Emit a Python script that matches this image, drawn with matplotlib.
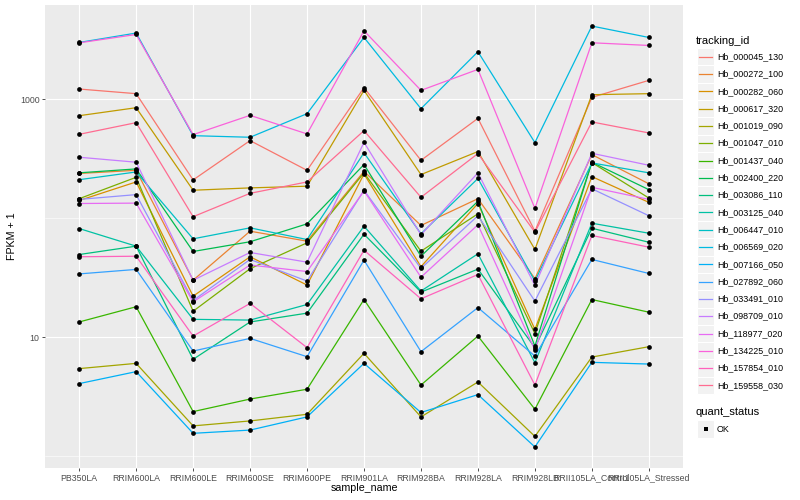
import numpy as np
import matplotlib
matplotlib.use('Agg')
import matplotlib.pyplot as plt
from matplotlib.lines import Line2D
from matplotlib.patches import Rectangle

plt.rcParams['font.family'] = ['Liberation Sans', 'DejaVu Sans']

# sample names (x axis)
samples = ['PB350LA', 'RRIM600LA', 'RRIM600LE', 'RRIM600SE', 'RRIM600PE', 'RRIM901LA',
           'RRIM928BA', 'RRIM928LA', 'RRIM928LB', 'RRII105LA_Control', 'RRII105LA_Stressed']

# FPKM + 1 per gene
hb_000045_130 = [1222, 1117, 210, 450, 253, 1254, 307, 692, 77.8, 1040, 1445]
hb_000272_100 = [238, 253, 30.1, 77.8, 64.1, 248, 86.9, 146, 31.0, 343, 195]
hb_000282_060 = [141, 202, 22.1, 47.4, 27.4, 236, 39.1, 133, 11.6, 224, 136]
hb_000617_320 = [729, 851, 172, 180, 186, 1191, 233, 364, 54.6, 1095, 1117]
hb_001019_090 = [5.43, 6.01, 1.79, 1.97, 2.24, 7.30, 2.13, 4.19, 1.46, 6.79, 8.30]
hb_001047_010 = [146, 221, 16.5, 37.6, 62.1, 241, 52.8, 109, 10.7, 294, 148]
hb_001437_040 = [13.4, 18.0, 2.36, 3.01, 3.64, 20.7, 3.95, 10.2, 2.47, 20.7, 16.2]
hb_002400_220 = [241, 260, 52.5, 63.4, 89.7, 283, 47.9, 139, 8.40, 296, 174]
hb_003086_110 = [49.5, 58.2, 6.50, 13.4, 15.9, 73.4, 23.9, 37.3, 8.15, 82.4, 62.8]
hb_003125_040 = [81.9, 58.2, 14.1, 13.9, 18.8, 85.7, 24.4, 50.2, 6.09, 90.8, 74.8]
hb_006447_010 = [211, 245, 67.1, 83.0, 66.2, 355, 73.9, 216, 29.6, 292, 241]
hb_006569_020 = [3013, 3614, 495, 480, 758, 3319, 835, 2518, 433, 4140, 3319]
hb_007166_050 = [4.06, 5.12, 1.55, 1.65, 2.13, 6.01, 2.32, 3.28, 1.19, 6.13, 5.93]
hb_027892_060 = [34.0, 37.1, 7.63, 9.75, 6.84, 44.4, 7.54, 17.7, 6.92, 45.0, 34.3]
hb_033491_010 = [144, 158, 20.3, 45.0, 29.6, 172, 37.8, 105, 20.1, 177, 105]
hb_098709_010 = [326, 296, 30.1, 51.5, 42.7, 435, 72.6, 241, 27.2, 352, 279]
hb_118977_020 = [133, 134, 19.8, 40.4, 35.6, 170, 31.9, 88.1, 7.78, 182, 144]
hb_134225_010 = [2990, 3516, 505, 734, 512, 3778, 1191, 1787, 121, 2994, 2843]
hb_157854_010 = [47.4, 47.9, 10.2, 19.2, 8.15, 53.8, 21.0, 33.6, 3.95, 71.6, 57.1]
hb_159558_030 = [508, 637, 103, 162, 202, 546, 150, 350, 76.3, 646, 522]

tracking_ids = ['Hb_000045_130', 'Hb_000272_100', 'Hb_000282_060', 'Hb_000617_320',
                'Hb_001019_090', 'Hb_001047_010', 'Hb_001437_040', 'Hb_002400_220',
                'Hb_003086_110', 'Hb_003125_040', 'Hb_006447_010', 'Hb_006569_020',
                'Hb_007166_050', 'Hb_027892_060', 'Hb_033491_010', 'Hb_098709_010',
                'Hb_118977_020', 'Hb_134225_010', 'Hb_157854_010', 'Hb_159558_030']
series = [hb_000045_130, hb_000272_100, hb_000282_060, hb_000617_320, hb_001019_090,
          hb_001047_010, hb_001437_040, hb_002400_220, hb_003086_110, hb_003125_040,
          hb_006447_010, hb_006569_020, hb_007166_050, hb_027892_060, hb_033491_010,
          hb_098709_010, hb_118977_020, hb_134225_010, hb_157854_010, hb_159558_030]

# ggplot default hue palette for 20 levels
colors = ['#F8766D', '#EA8331', '#D89000', '#C09B00', '#A3A500', '#7CAE00', '#39B600',
          '#00BB4E', '#00BF7D', '#00C1A3', '#00BFC4', '#00BAE0', '#00B0F6', '#35A2FF',
          '#9590FF', '#C77CFF', '#E76BF3', '#FA62DB', '#FF62BC', '#FF6C91']

W, H = 800, 500
fig = plt.figure(figsize=(8, 5), dpi=100)
ax = fig.add_axes([45 / W, 1 - 468 / H, (683 - 45) / W, (468 - 5) / H])
ax.set_facecolor('#EBEBEB')
for s in ax.spines.values():
    s.set_visible(False)

x = np.arange(len(samples))
for vals, c in zip(series, colors):
    ax.plot(x, vals, color=c, lw=0.9, zorder=3)
for vals in series:
    ax.plot(x, vals, 'o', color='black', ms=3.4, mew=0, zorder=4)

ax.set_yscale('log')
ax.set_yticks([10, 1000])
ax.set_yticklabels(['10', '1000'])
ax.set_yticks([1, 100, 10000], minor=True)
ax.yaxis.set_minor_formatter(plt.NullFormatter())
ax.set_xticks(x)
ax.set_xticklabels(samples)

# limits after ticks, so the off-panel minor tick does not widen them
allv = np.log10(np.concatenate([np.array(v) for v in series]))
lo, hi = allv.min(), allv.max()
pad = (hi - lo) * 0.05
ax.set_ylim(10 ** (lo - pad), 10 ** (hi + pad))
ax.set_xlim(-0.6, len(samples) - 0.4)

ax.grid(True, which='major', color='white', lw=0.8, zorder=0)
ax.grid(True, which='minor', axis='y', color='white', lw=0.4, zorder=0)
ax.set_axisbelow(True)
ax.tick_params(axis='both', which='major', length=2.5, width=0.6, color='#333333',
               labelsize=6.3, labelcolor='#4D4D4D', pad=1.5)
ax.tick_params(axis='both', which='minor', length=0)

ax.set_xlabel('sample_name', fontsize=7.7, va='center')
ax.xaxis.set_label_coords(0.5, (468 - 488) / 463)
ax.set_ylabel('FPKM + 1', fontsize=7.7, va='center')
ax.yaxis.set_label_coords((12 - 45) / 638, 0.5)

# legends, placed in figure pixels
tf = fig.transFigure


def fx(px):
    return px / W


def fy(py):
    return 1 - py / H


fig.text(fx(696), fy(40.5), 'tracking_id', fontsize=8, va='center', ha='left')
row0, step = 56.7, 17.3
for i, (tid, c) in enumerate(zip(tracking_ids, colors)):
    yc = row0 + i * step
    fig.patches.append(Rectangle((fx(697), fy(yc + step / 2)), 17 / W, step / H,
                                 transform=tf, fc='#F2F2F2', ec='white', lw=0.8))
    fig.lines.append(Line2D([fx(699), fx(712)], [fy(yc), fy(yc)], transform=tf,
                            color=c, lw=0.9))
    fig.text(fx(717), fy(yc), tid, fontsize=6.4, va='center', ha='left')

fig.text(fx(696), fy(412), 'quant_status', fontsize=8, va='center', ha='left')
fig.patches.append(Rectangle((fx(697), fy(429 + step / 2)), 17 / W, step / H,
                             transform=tf, fc='#F2F2F2', ec='white', lw=0.8))
fig.lines.append(Line2D([fx(705.5)], [fy(429)], transform=tf, marker='s', ms=2.4,
                        color='black', mew=0))
fig.text(fx(717), fy(429), 'OK', fontsize=6.4, va='center', ha='left')

fig.savefig('out.png', dpi=100)
